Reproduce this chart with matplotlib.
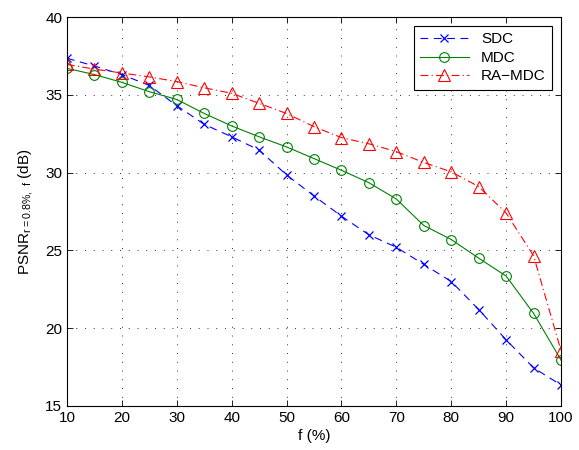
import matplotlib
matplotlib.use("Agg")
import matplotlib.pyplot as plt

plt.rcParams["font.family"] = ["Liberation Sans", "DejaVu Sans"]
plt.rcParams["mathtext.fontset"] = "custom"
plt.rcParams["mathtext.rm"] = "Liberation Sans"
plt.rcParams["mathtext.default"] = "regular"

f_pct = [10, 15, 20, 25, 30, 35, 40, 45, 50, 55, 60, 65, 70, 75, 80, 85, 90, 95, 100]
sdc = [37.35, 36.85, 36.3, 35.6, 34.3, 33.1, 32.3, 31.45, 29.85, 28.5, 27.2, 26.0,
       25.2, 24.1, 23.0, 21.2, 19.25, 17.45, 16.35]
mdc = [36.7, 36.3, 35.8, 35.2, 34.7, 33.8, 33.0, 32.3, 31.65, 30.9, 30.15, 29.35,
       28.3, 26.6, 25.7, 24.5, 23.35, 20.95, 17.95]
ra_mdc = [36.95, 36.65, 36.4, 36.15, 35.85, 35.45, 35.1, 34.45, 33.8, 32.95, 32.25,
          31.85, 31.35, 30.65, 30.05, 29.1, 27.4, 24.65, 18.55]

fig = plt.figure(figsize=(5.79, 4.5), dpi=100)
ax = fig.add_axes([0.1157, 0.0978, 0.8533, 0.8644])

ax.plot(f_pct, sdc, color="blue", linestyle=(0, (7, 5)), linewidth=0.8,
        marker="x", markersize=6, markeredgewidth=0.9, label="SDC")
ax.plot(f_pct, mdc, color=(0, 0.5, 0), linestyle="-", linewidth=0.8,
        marker="o", markersize=7, markerfacecolor="none", markeredgewidth=0.8, label="MDC")
ax.plot(f_pct, ra_mdc, color="red", linestyle=(0, (7, 3, 1, 3)), linewidth=0.8,
        marker="^", markersize=8, markerfacecolor="none", markeredgewidth=0.8, label="RA\u2212MDC")

ax.set_xlim(10, 100)
ax.set_ylim(15, 40)
ax.set_xticks(range(10, 101, 10))
ax.set_yticks(range(15, 41, 5))
ax.tick_params(direction="in", length=4, width=0.6, labelsize=11, top=True, right=True)
for s in ax.spines.values():
    s.set_linewidth(0.8)
ax.grid(True, linestyle=(0, (1, 8)), color="black", linewidth=0.7, alpha=0.8)

ax.set_xlabel("f (%)", fontsize=11, labelpad=3)
ax.set_ylabel(r"PSNR$_{r=0.8\%,\ f}$ (dB)", fontsize=11, labelpad=7)

leg = ax.legend(loc="upper right", fontsize=11, fancybox=False, framealpha=1,
                edgecolor="black", handlelength=3.2, borderaxespad=0.6,
                labelspacing=0.3)
leg.get_frame().set_linewidth(0.8)

fig.savefig("out.png", dpi=100)
